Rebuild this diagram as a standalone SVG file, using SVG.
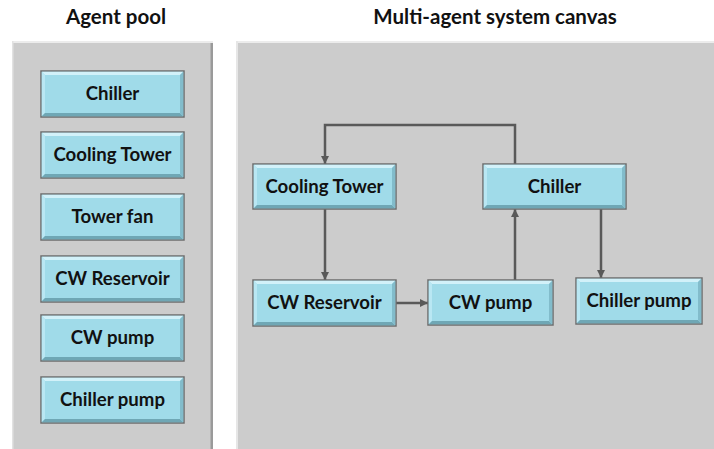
<svg xmlns="http://www.w3.org/2000/svg" width="714" height="449" viewBox="0 0 714 449">
  <defs>
    <style>
      .title { font-family: Lato, "Open Sans", "Liberation Sans", sans-serif; font-weight: bold; font-size: 20.5px; fill: #111; text-anchor: middle; }
      .label { font-family: Lato, "Open Sans", "Liberation Sans", sans-serif; font-weight: bold; font-size: 18.6px; fill: #111; text-anchor: middle; }
      .panel { fill: #cccccc; }
      .box { fill: #a0dbe9; stroke: #6e6e6e; stroke-width: 1.5; }
      .bev-top { fill: #d2f1f9; }
      .bev-left { fill: #b9e7f3; }
      .bev-bot { fill: #6fa7b5; }
      .bev-right { fill: #82bccb; }
      .conn { fill: none; stroke: #595959; stroke-width: 2.5; }
    </style>
    <marker id="arrow" viewBox="0 0 8 8" refX="8" refY="4" markerWidth="3.2" markerHeight="3.2" markerUnits="strokeWidth" orient="auto">
      <path d="M0,0 L8,4 L0,8 Z" fill="#595959"/>
    </marker>
  </defs>

  <rect width="714" height="449" fill="#ffffff"/>

  <!-- Titles -->
  <text class="title" x="116" y="24">Agent pool</text>
  <text class="title" x="495" y="24">Multi-agent system canvas</text>

  <!-- Panels -->
  <g id="agent-pool-panel">
    <rect class="panel" x="12" y="41" width="201" height="408"/>
    <rect x="12" y="41" width="201" height="2" fill="#ececec"/>
    <rect x="12" y="41" width="1.5" height="408" fill="#e2e2e2"/>
    <rect x="210.5" y="43" width="2.5" height="406" fill="#9a9a9a"/>
  </g>
  <g id="canvas-panel">
    <rect class="panel" x="236" y="41" width="478" height="408"/>
    <rect x="236" y="41" width="478" height="2" fill="#ececec"/>
    <rect x="236" y="41" width="2" height="408" fill="#e6e6e6"/>
  </g>

  <!-- Agent pool nodes -->
  <g id="pool-chiller">
    <rect class="box" x="41" y="71" width="143" height="46"/>
    <path class="bev-top" d="M41.75,71.75 H183.25 L180,75 H45 Z"/>
    <path class="bev-left" d="M41.75,71.75 L45,75 V113 L41.75,116.25 Z"/>
    <path class="bev-bot" d="M41.75,116.25 L45,113 H180 L183.25,116.25 Z"/>
    <path class="bev-right" d="M183.25,71.75 L180,75 V113 L183.25,116.25 Z"/>
    <text class="label" x="112.5" y="100">Chiller</text>
  </g>
  <g id="pool-cooling-tower">
    <rect class="box" x="41" y="132" width="143" height="46"/>
    <path class="bev-top" d="M41.75,132.75 H183.25 L180,136 H45 Z"/>
    <path class="bev-left" d="M41.75,132.75 L45,136 V174 L41.75,177.25 Z"/>
    <path class="bev-bot" d="M41.75,177.25 L45,174 H180 L183.25,177.25 Z"/>
    <path class="bev-right" d="M183.25,132.75 L180,136 V174 L183.25,177.25 Z"/>
    <text class="label" x="112.5" y="161">Cooling Tower</text>
  </g>
  <g id="pool-tower-fan">
    <rect class="box" x="41" y="194" width="143" height="46"/>
    <path class="bev-top" d="M41.75,194.75 H183.25 L180,198 H45 Z"/>
    <path class="bev-left" d="M41.75,194.75 L45,198 V236 L41.75,239.25 Z"/>
    <path class="bev-bot" d="M41.75,239.25 L45,236 H180 L183.25,239.25 Z"/>
    <path class="bev-right" d="M183.25,194.75 L180,198 V236 L183.25,239.25 Z"/>
    <text class="label" x="112.5" y="223">Tower fan</text>
  </g>
  <g id="pool-cw-reservoir">
    <rect class="box" x="41" y="256" width="143" height="46"/>
    <path class="bev-top" d="M41.75,256.75 H183.25 L180,260 H45 Z"/>
    <path class="bev-left" d="M41.75,256.75 L45,260 V298 L41.75,301.25 Z"/>
    <path class="bev-bot" d="M41.75,301.25 L45,298 H180 L183.25,301.25 Z"/>
    <path class="bev-right" d="M183.25,256.75 L180,260 V298 L183.25,301.25 Z"/>
    <text class="label" x="112.5" y="285">CW Reservoir</text>
  </g>
  <g id="pool-cw-pump">
    <rect class="box" x="41" y="315" width="143" height="46"/>
    <path class="bev-top" d="M41.75,315.75 H183.25 L180,319 H45 Z"/>
    <path class="bev-left" d="M41.75,315.75 L45,319 V357 L41.75,360.25 Z"/>
    <path class="bev-bot" d="M41.75,360.25 L45,357 H180 L183.25,360.25 Z"/>
    <path class="bev-right" d="M183.25,315.75 L180,319 V357 L183.25,360.25 Z"/>
    <text class="label" x="112.5" y="344">CW pump</text>
  </g>
  <g id="pool-chiller-pump">
    <rect class="box" x="41" y="377" width="143" height="46"/>
    <path class="bev-top" d="M41.75,377.75 H183.25 L180,381 H45 Z"/>
    <path class="bev-left" d="M41.75,377.75 L45,381 V419 L41.75,422.25 Z"/>
    <path class="bev-bot" d="M41.75,422.25 L45,419 H180 L183.25,422.25 Z"/>
    <path class="bev-right" d="M183.25,377.75 L180,381 V419 L183.25,422.25 Z"/>
    <text class="label" x="112.5" y="406">Chiller pump</text>
  </g>

  <!-- Connectors -->
  <g id="connectors">
    <path class="conn" d="M515,164 V125 H325 V164" marker-end="url(#arrow)"/>
    <path class="conn" d="M325,209 V280" marker-end="url(#arrow)"/>
    <path class="conn" d="M396,303 H428" marker-end="url(#arrow)"/>
    <path class="conn" d="M515,280 V209" marker-end="url(#arrow)"/>
    <path class="conn" d="M601,209 V278" marker-end="url(#arrow)"/>
  </g>

  <!-- Canvas nodes -->
  <g id="cooling-tower">
    <rect class="box" x="253" y="164" width="143" height="45"/>
    <path class="bev-top" d="M253.75,164.75 H395.25 L392,168 H257 Z"/>
    <path class="bev-left" d="M253.75,164.75 L257,168 V205 L253.75,208.25 Z"/>
    <path class="bev-bot" d="M253.75,208.25 L257,205 H392 L395.25,208.25 Z"/>
    <path class="bev-right" d="M395.25,164.75 L392,168 V205 L395.25,208.25 Z"/>
    <text class="label" x="324.5" y="193">Cooling Tower</text>
  </g>
  <g id="chiller">
    <rect class="box" x="483" y="164" width="143" height="45"/>
    <path class="bev-top" d="M483.75,164.75 H625.25 L622,168 H487 Z"/>
    <path class="bev-left" d="M483.75,164.75 L487,168 V205 L483.75,208.25 Z"/>
    <path class="bev-bot" d="M483.75,208.25 L487,205 H622 L625.25,208.25 Z"/>
    <path class="bev-right" d="M625.25,164.75 L622,168 V205 L625.25,208.25 Z"/>
    <text class="label" x="554.5" y="193">Chiller</text>
  </g>
  <g id="cw-reservoir">
    <rect class="box" x="253" y="280" width="143" height="46"/>
    <path class="bev-top" d="M253.75,280.75 H395.25 L392,284 H257 Z"/>
    <path class="bev-left" d="M253.75,280.75 L257,284 V322 L253.75,325.25 Z"/>
    <path class="bev-bot" d="M253.75,325.25 L257,322 H392 L395.25,325.25 Z"/>
    <path class="bev-right" d="M395.25,280.75 L392,284 V322 L395.25,325.25 Z"/>
    <text class="label" x="324.5" y="309">CW Reservoir</text>
  </g>
  <g id="cw-pump">
    <rect class="box" x="428" y="280" width="125" height="45"/>
    <path class="bev-top" d="M428.75,280.75 H552.25 L549,284 H432 Z"/>
    <path class="bev-left" d="M428.75,280.75 L432,284 V321 L428.75,324.25 Z"/>
    <path class="bev-bot" d="M428.75,324.25 L432,321 H549 L552.25,324.25 Z"/>
    <path class="bev-right" d="M552.25,280.75 L549,284 V321 L552.25,324.25 Z"/>
    <text class="label" x="490.5" y="309">CW pump</text>
  </g>
  <g id="chiller-pump">
    <rect class="box" x="576" y="278" width="126" height="46"/>
    <path class="bev-top" d="M576.75,278.75 H701.25 L698,282 H580 Z"/>
    <path class="bev-left" d="M576.75,278.75 L580,282 V320 L576.75,323.25 Z"/>
    <path class="bev-bot" d="M576.75,323.25 L580,320 H698 L701.25,323.25 Z"/>
    <path class="bev-right" d="M701.25,278.75 L698,282 V320 L701.25,323.25 Z"/>
    <text class="label" x="639" y="307">Chiller pump</text>
  </g>
</svg>
